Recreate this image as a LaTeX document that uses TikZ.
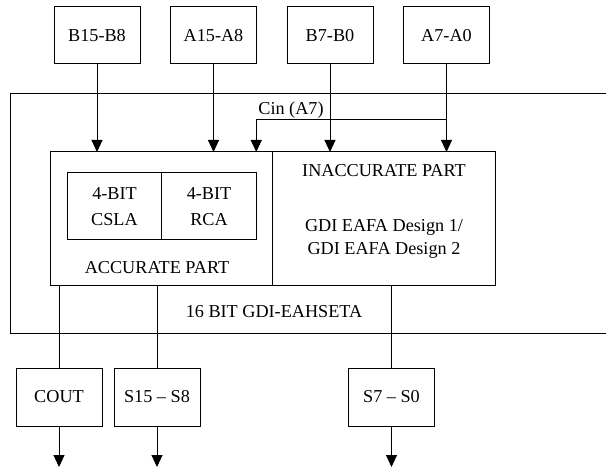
\documentclass[tikz,border=0pt]{standalone}
\usepackage{fontspec}
\setmainfont{Liberation Serif}
\usetikzlibrary{positioning, arrows.meta, calc}
\tikzset{arr/.style={-{Triangle[length=12pt, width=11pt]}}}

\begin{document}
\begin{tikzpicture}[
      x=1pt, y=-1pt,
      line width=1pt,
      node distance=30.5pt,
      every node/.style={font=\fontsize{18.2}{26}\selectfont, align=center, inner sep=0pt, outer sep=0pt},
      block/.style={draw, minimum width=86pt, minimum height=57pt},
      part/.style={draw, minimum width=222.5pt, minimum height=134pt},
      adder/.style={draw, minimum width=94.5pt, minimum height=67pt},
  ]
      \useasboundingbox (0,0) rectangle (606,468);

      % Top row: operand inputs
      \node[block] (bhi) at (97,35.5) {B15-B8};
      \node[block, right=of bhi] (ahi) {A15-A8};
      \node[block, right=of ahi] (blo) {B7-B0};
      \node[block, right=of blo] (alo) {A7-A0};

      % Outer frame (right side runs off the picture)
      \draw (606,94) -| (10,333) -- (606,333);
      \node (title) at (274,312) {16 BIT GDI-EAHSETA};

      % Accurate / inaccurate parts
      \node[part] (acc) at (161.25,219) {};
      \node[part, right=0pt of acc] (inacc) {};
      \node[adder] (csla) at (114.5,206.5) {4-BIT\\CSLA};
      \node[adder, right=0pt of csla] (rca) {4-BIT\\RCA};
      \node (acclbl) at (157,268) {ACCURATE PART};
      \node (inacclbl) at (384,171) {INACCURATE PART};
      \node[font=\fontsize{18.2}{23}\selectfont] (design) at (384,239) {GDI EAFA Design 1/\\GDI EAFA Design 2};

      % Carry in taken from A7
      \node (cinlbl) at (291,110) {Cin (A7)};
      \coordinate (cinsplit) at (alo |- 0,120);

      % Inputs -> parts
      \draw[arr] (bhi) -- (bhi |- acc.north);
      \draw[arr] (ahi) -- (ahi |- acc.north);
      \draw[arr] (blo) -- (blo |- inacc.north);
      \draw[arr] (alo) -- (alo |- inacc.north);
      \draw[arr] (cinsplit) -| (rca.east |- acc.north);

      % Bottom row: outputs
      \node[block, minimum height=58pt] (cout) at (59,397) {COUT};
      \node[block, minimum height=58pt, right=12pt of cout] (shi) {S15 -- S8};
      \node[block, minimum height=58pt] (slo) at (391.5,397) {S7 -- S0};

      % Parts -> outputs
      \draw (cout |- acc.south) -- (cout);
      \draw (shi |- acc.south) -- (shi);
      \draw (slo |- inacc.south) -- (slo);
      \foreach \o in {cout, shi, slo} {
          \coordinate (\o-end) at (\o |- 0,467);
          \draw[arr] (\o) -- (\o-end);
      }

\end{tikzpicture}
\end{document}
